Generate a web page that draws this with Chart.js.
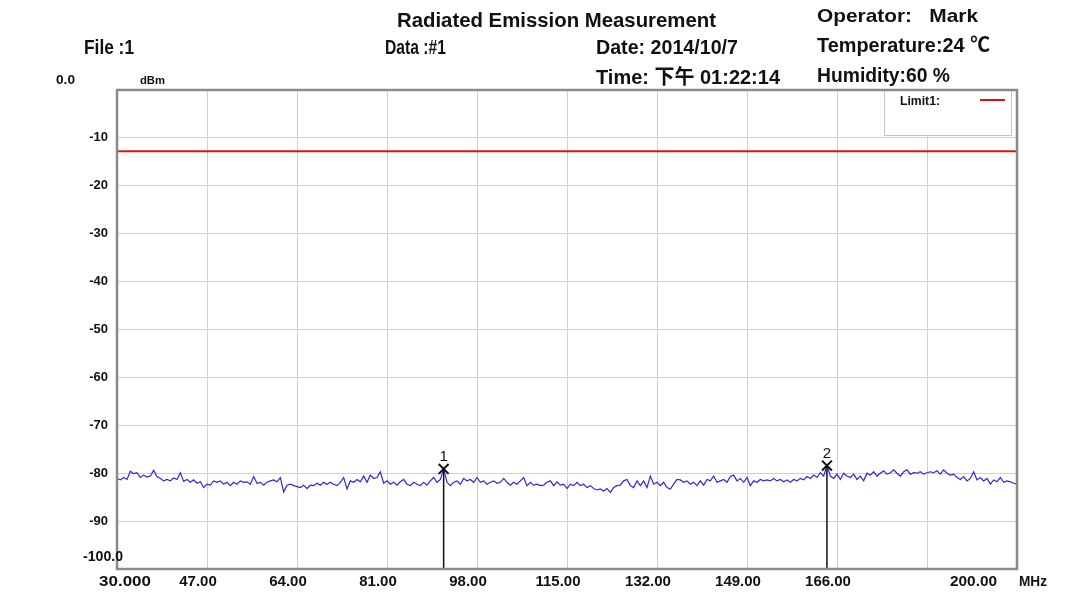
<!DOCTYPE html>
<html>
<head>
<meta charset="utf-8">
<script src="https://cdn.jsdelivr.net/npm/chart.js@4/dist/chart.umd.min.js"></script>
<style>
  html, body { margin: 0; padding: 0; background: #fff; }
  #emiCanvas { display: block; }
</style>
</head>
<body>
<canvas id="emiCanvas" width="1089" height="594"></canvas>
<script>
// sweep / axis
var sweepStart = 30;
var sweepStop = 200;
var xTicks = [30, 47, 64, 81, 98, 115, 132, 149, 166, 183, 200];
var yTicks = [0, -10, -20, -30, -40, -50, -60, -70, -80, -90, -100];

// trace (dBm), evenly spaced sweep points 30 -> 200 MHz
var traceLevels = [
  -81.1, -81.4, -80.9, -81.3, -79.6, -80.1, -79.9, -80.9, -80.4, -80.8,
  -80.6, -79.4, -80.7, -81.1, -81.6, -81.3, -81.6, -81.0, -81.3, -79.9,
  -81.7, -81.3, -81.9, -81.4, -82.1, -81.8, -83.0, -82.3, -82.5, -81.6,
  -81.9, -81.6, -82.3, -81.9, -82.6, -81.9, -82.3, -81.6, -81.9, -81.8,
  -82.3, -80.7, -82.1, -81.9, -82.5,
  -81.9, -81.6, -81.4, -81.8, -80.9, -83.9, -82.5, -82.3, -82.6, -82.8,
  -83.0, -82.5, -83.2, -82.5, -82.6, -82.1, -82.5, -81.9, -82.3, -81.9,
  -82.3, -82.6, -81.9, -80.9, -83.3, -81.6, -81.9, -81.3, -81.8, -80.6,
  -81.9, -80.4, -81.1, -80.9, -79.7, -82.1, -81.6, -82.3, -81.9, -82.5,
  -81.8, -81.3, -82.3, -82.6, -81.9,
  -82.3, -82.6, -81.9, -82.5, -81.6, -80.9, -81.9, -81.3, -79.1, -81.9,
  -82.6, -81.9, -81.6, -82.3, -81.1, -81.6, -81.3, -81.9, -80.9, -81.9,
  -81.6, -82.3, -81.9, -81.6, -82.1, -81.9, -81.1, -81.9, -82.5, -81.9,
  -82.3, -81.6, -80.9, -82.6, -81.9, -82.5, -82.3, -82.6, -82.5, -81.9,
  -81.6, -82.6, -81.8, -82.5, -82.3,
  -83.2, -82.3, -82.6, -81.9, -82.6, -82.3, -83.0, -82.6, -83.2, -83.5,
  -83.3, -83.7, -83.2, -84.0, -83.0, -82.6, -82.5, -81.6, -81.3, -82.6,
  -83.0, -81.6, -82.6, -81.6, -83.0, -80.6, -82.3, -81.9, -82.6, -81.9,
  -83.0, -83.3, -82.3, -81.3, -81.4, -81.9, -81.6, -82.3, -81.9, -82.6,
  -81.6, -82.5, -81.3, -81.6, -80.6,
  -81.9, -81.6, -81.3, -81.9, -80.7, -80.4, -81.6, -81.1, -81.9, -80.9,
  -82.6, -81.6, -81.9, -81.3, -81.6, -81.4, -81.6, -81.1, -81.6, -81.3,
  -81.8, -81.4, -81.9, -81.3, -81.6, -81.1, -81.4, -80.7, -81.1, -80.4,
  -80.9, -79.9, -80.6, -78.4, -80.6, -81.1, -80.2, -81.3, -80.0, -80.6,
  -80.9, -80.2, -81.3, -80.6, -81.6,
  -80.0, -80.4, -79.7, -80.6, -80.0, -79.5, -80.2, -79.9, -79.3, -80.0,
  -80.6, -79.7, -79.3, -80.2, -79.9, -80.0, -79.7, -80.2, -79.9, -79.7,
  -79.9, -79.5, -80.2, -79.3, -80.0, -80.4, -80.2, -80.9, -81.3, -80.7,
  -81.6, -81.1, -79.7, -81.4, -80.9, -81.6, -81.1, -82.3, -81.4, -81.8,
  -80.9, -81.9, -81.6, -81.8, -82.1, -82.3
];

// limit line and markers
var limitLevel = -12.8;
var markerNames = ["1", "2"];
var markerFreqs = [91.7, 164.1];
var markerLevels = [-79.1, -78.4];

var FONT = '"Liberation Sans", "Noto Sans CJK SC", Arial, sans-serif';

// draw bold text squeezed/stretched to a given width
function fitText(ctx, text, x, y, w, size, weight) {
  ctx.font = (weight || "bold") + " " + size + "px " + FONT;
  var m = ctx.measureText(text).width;
  ctx.save();
  ctx.translate(x, y);
  ctx.scale(w / m, 1);
  ctx.textAlign = "left";
  ctx.textBaseline = "alphabetic";
  ctx.fillText(text, 0, 0);
  ctx.restore();
}

var headerTexts = [
  ["Radiated Emission Measurement", 397, 27, 319, 20],
  ["Operator:   Mark", 817, 22, 161, 19],
  ["File :1", 84, 54, 50, 20],
  ["Data :#1", 385, 54, 61, 20],
  ["Date: 2014/10/7", 596, 54, 142, 20],
  ["Temperature:24 \u2103", 817, 52, 173, 20],
  ["Time: \u4E0B\u5348 01:22:14", 596, 84, 184, 20],
  ["Humidity:60 %", 817, 82, 133, 20],
  ["0.0", 56, 84, 19, 12],
  ["dBm", 140, 84, 25, 11]
];

var decorPlugin = {
  id: "emiDecor",
  beforeDatasetsDraw: function(chart) {
    var ctx = chart.ctx, ca = chart.chartArea;
    // legend box (covers grid)
    ctx.save();
    ctx.fillStyle = "#fff";
    ctx.strokeStyle = "#c4c4c4";
    ctx.lineWidth = 1;
    ctx.fillRect(ca.right - 133, ca.top, 127, 46);
    ctx.strokeRect(ca.right - 132.5, ca.top + 0.5, 127, 45);
    ctx.fillStyle = "#111";
    fitText(ctx, "Limit1:", ca.right - 117, ca.top + 15, 40, 12);
    ctx.strokeStyle = "#e01010";
    ctx.lineWidth = 2;
    ctx.beginPath();
    ctx.moveTo(ca.right - 37, ca.top + 10);
    ctx.lineTo(ca.right - 12, ca.top + 10);
    ctx.stroke();
    ctx.restore();
  },
  afterDatasetsDraw: function(chart) {
    var ctx = chart.ctx, ca = chart.chartArea;
    var xs = chart.scales.x, ys = chart.scales.y;
    ctx.save();
    // frame
    ctx.strokeStyle = "#8a8a8a";
    ctx.lineWidth = 2.5;
    ctx.strokeRect(ca.left, ca.top, ca.right - ca.left, ca.bottom - ca.top);
    // marker numbers
    ctx.fillStyle = "#111";
    ctx.font = "15px " + FONT;
    ctx.textAlign = "center";
    ctx.textBaseline = "alphabetic";
    for (var i = 0; i < markerNames.length; i++) {
      ctx.fillText(markerNames[i], xs.getPixelForValue(markerFreqs[i]), ys.getPixelForValue(markerLevels[i]) - 8);
    }
    ctx.restore();
  },
  afterDraw: function(chart) {
    var ctx = chart.ctx;
    var xs = chart.scales.x, ys = chart.scales.y;
    ctx.save();
    ctx.fillStyle = "#111";
    headerTexts.forEach(function(t) {
      fitText(ctx, t[0], t[1], t[2], t[3], t[4]);
    });
    // odd axis labels
    fitText(ctx, "-100.0", 83, ys.getPixelForValue(-100) - 8, 40, 15);
    fitText(ctx, sweepStart.toFixed(3), xs.getPixelForValue(sweepStart) - 18, 586, 52, 15);
    fitText(ctx, sweepStop.toFixed(2), xs.getPixelForValue(sweepStop) - 67, 586, 47, 15);
    fitText(ctx, "MHz", xs.getPixelForValue(sweepStop) + 2, 586, 28, 14);
    ctx.restore();
  }
};

function $each(arr, fn) { for (var i = 0; i < arr.length; i++) fn(i, arr[i]); }

function buildTrace() {
  var pts = [];
  var n = traceLevels.length;
  $each(traceLevels, function(i, v) {
    pts.push({ x: sweepStart + i * (sweepStop - sweepStart) / (n - 1), y: v });
  });
  return pts;
}

var datasets = [];
datasets.push({
  label: "Trace", data: buildTrace(), borderColor: "#2a2ae0", borderWidth: 1.2,
  pointRadius: 0, tension: 0, order: 3
});
datasets.push({
  label: "Limit1", data: [{ x: sweepStart, y: limitLevel }, { x: sweepStop, y: limitLevel }],
  borderColor: "#e01010", borderWidth: 2, pointRadius: 0, order: 4
});
$each(markerFreqs, function(i, f) {
  datasets.push({
    label: "Stem" + markerNames[i], data: [{ x: f, y: markerLevels[i] }, { x: f, y: -100 }],
    borderColor: "#111", borderWidth: 1.5, pointRadius: 0, order: 2
  });
});
datasets.push({
  label: "Markers",
  data: markerFreqs.map(function(f, i) { return { x: f, y: markerLevels[i] }; }),
  showLine: false, pointStyle: "crossRot", pointRadius: 7, borderColor: "#111",
  borderWidth: 2, order: 1
});

var ctx = document.getElementById("emiCanvas").getContext("2d");
var chart = new Chart(ctx, {
  type: "line",
  data: { datasets: datasets },
  options: {
    responsive: false,
    animation: false,
    layout: { padding: { left: 87, right: 72, top: 90, bottom: 0 } },
    plugins: { legend: { display: false }, tooltip: { enabled: false } },
    scales: {
      x: {
        type: "linear", min: sweepStart, max: sweepStop,
        afterBuildTicks: function(s) { s.ticks = xTicks.map(function(v) { return { value: v }; }); },
        afterFit: function(s) { s.height = 25; },
        grid: { color: "#cfcfcf", lineWidth: 1, drawTicks: false },
        border: { display: false },
        ticks: {
          autoSkip: false, maxRotation: 0, padding: 4, labelOffset: -9, color: "#111",
          font: { family: FONT, size: 15, weight: "bold" },
          callback: function(v) { return (v === sweepStart || v === 183 || v === sweepStop) ? "" : v.toFixed(2); }
        }
      },
      y: {
        type: "linear", min: -100, max: 0,
        afterBuildTicks: function(s) { s.ticks = yTicks.map(function(v) { return { value: v }; }); },
        afterFit: function(s) { s.width = 30; },
        grid: { color: "#cfcfcf", lineWidth: 1, drawTicks: false },
        border: { display: false },
        ticks: {
          padding: 9, color: "#111",
          font: { family: FONT, size: 13, weight: "bold" },
          callback: function(v) { return (v === 0 || v === -100) ? "" : String(v); }
        }
      }
    }
  },
  plugins: [decorPlugin]
});
</script>
</body>
</html>
